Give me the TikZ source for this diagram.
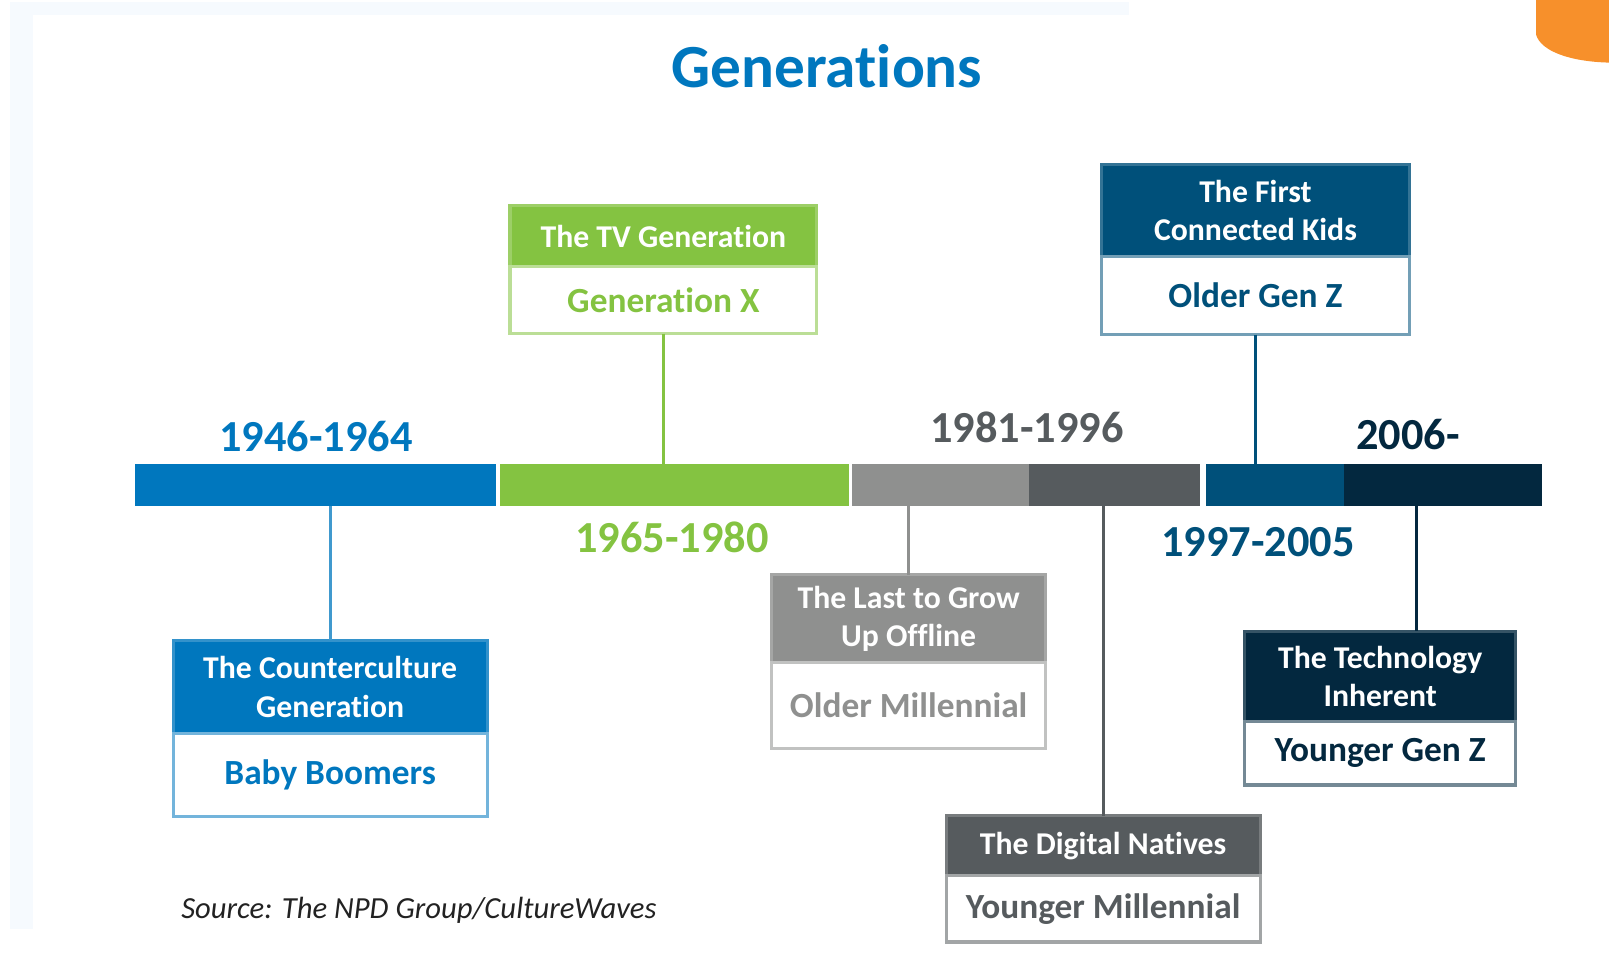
\documentclass[tikz,border=0pt]{standalone}
\usepackage{fontspec}
\setmainfont[Ligatures=CommonOff]{Carlito}
\usetikzlibrary{positioning}
\definecolor{boomBlue}{HTML}{0077BE}
\definecolor{genxGreen}{HTML}{84C341}
\definecolor{oldGray}{HTML}{8F908F}
\definecolor{youngGray}{HTML}{565B5E}
\definecolor{zNavy}{HTML}{00507A}
\definecolor{zDeep}{HTML}{03283F}
\definecolor{wavesOrange}{HTML}{F7902B}
\definecolor{paneTint}{HTML}{F6FAFE}
\definecolor{srcInk}{HTML}{222222}
\begin{document}
\begin{tikzpicture}[x=0.1mm,y=-0.1mm,
    seg/.style={fill=#1, inner sep=0pt, outer sep=0pt, minimum height=4.1mm},
    head/.style={fill=#1, draw=#1!80!white, line width=0.3mm, text=white, align=center,
        inner sep=0pt, outer sep=0pt, font=\bfseries\fontsize{8.8}{10.6}\selectfont},
    body/.style={fill=white, draw=#1!55!white, line width=0.3mm, text=#1,
        inner sep=0pt, outer sep=0pt, font=\bfseries\fontsize{9.8}{11}\selectfont},
    years/.style={text=#1, font=\bfseries\fontsize{12.3}{14}\selectfont},
    link/.style={draw=#1, line width=0.3mm}]
    \useasboundingbox (0,0) rectangle (1568,948);

    % frame and corner
    \fill[paneTint] (10,2) rectangle (1100,15);
    \fill[paneTint] (10,15) rectangle (32,905);
    \fill[wavesOrange] (1497,0) -- (1497,34) .. controls (1502,50) and (1530,60) .. (1568,61) -- (1568,0) -- cycle;

    \node[text=boomBlue, font=\bfseries\fontsize{17}{20}\selectfont] (title) at (806,65) {Generations};

    % timeline
    \node[seg=boomBlue, minimum width=35.1mm] (bar1) at (307.5,472.5) {};
    \node[seg=genxGreen, minimum width=34mm] (bar2) at (657,472.5) {};
    \node[seg=oldGray, minimum width=17.3mm] (bar3) at (916.5,472.5) {};
    \node[seg=youngGray, minimum width=16.6mm] (bar4) at (1086,472.5) {};
    \node[seg=zNavy, minimum width=13.5mm] (bar5) at (1242.5,472.5) {};
    \node[seg=zDeep, minimum width=19.3mm] (bar6) at (1406.5,472.5) {};

    \node[years=boomBlue] (yBoom) at (308,425) {1946-1964};
    \node[years=genxGreen] (yGenx) at (655,524) {1965-1980};
    \node[years=youngGray] (yMill) at (1001,416) {1981-1996};
    \node[years=zNavy] (yOldz) at (1226,528) {1997-2005};
    \node[years=zDeep] (yYngz) at (1372,423) {2006-};

    % boxes
    \node[head=boomBlue, minimum width=30.6mm, minimum height=9.1mm] (bbHead) at (321.7,669.5) {The Counterculture\\Generation};
    \node[body=boomBlue, minimum width=30.6mm, minimum height=8.1mm, below=0pt of bbHead] (bbBody) {Baby Boomers};

    \node[head=genxGreen, minimum width=29.9mm, minimum height=6mm] (gxHead) at (646.5,230) {The TV Generation};
    \node[body=genxGreen, minimum width=29.9mm, minimum height=6.5mm, below=0pt of gxHead] (gxBody) {Generation X};

    \node[head=oldGray, minimum width=26.7mm, minimum height=8.6mm] (omHead) at (885.5,603) {The Last to Grow\\Up Offline};
    \node[body=oldGray, minimum width=26.7mm, minimum height=8.3mm, below=0pt of omHead] (omBody) {Older Millennial};

    \node[head=youngGray, minimum width=30.6mm, minimum height=5.8mm] (ymHead) at (1075,824) {The Digital Natives};
    \node[body=youngGray, minimum width=30.6mm, minimum height=6.5mm, below=0pt of ymHead] (ymBody) {Younger Millennial};

    \node[head=zNavy, minimum width=30.1mm, minimum height=9mm] (ozHead) at (1223.5,205) {The First\\Connected Kids};
    \node[body=zNavy, minimum width=30.1mm, minimum height=7.6mm, below=0pt of ozHead] (ozBody) {Older Gen Z};

    \node[head=zDeep, minimum width=26.4mm, minimum height=8.8mm] (yzHead) at (1345,659) {The Technology\\Inherent};
    \node[body=zDeep, minimum width=26.4mm, minimum height=6.2mm, below=0pt of yzHead] (yzBody) {Younger Gen Z};

    % links
    \draw[link=boomBlue!75!white] (bar1.south -| bbHead.north) -- (bbHead.north);
    \draw[link=genxGreen] (gxBody.south) -- (gxBody.south |- bar2.north);
    \draw[link=oldGray] (bar3.south -| omHead.north) -- (omHead.north);
    \draw[link=youngGray] (bar4.south -| ymHead.north) -- (ymHead.north);
    \draw[link=zNavy] (ozBody.south) -- (ozBody.south |- bar5.north);
    \coordinate (yzLink) at (1380,493);
    \draw[link=zDeep] (yzLink) -- (yzLink |- yzHead.north);

    \node[anchor=west, inner sep=0pt, text=srcInk, font=\itshape\fontsize{8.5}{10}\selectfont] (source) at (176,887) {Source: The NPD Group/CultureWaves};
\end{tikzpicture}
\end{document}
